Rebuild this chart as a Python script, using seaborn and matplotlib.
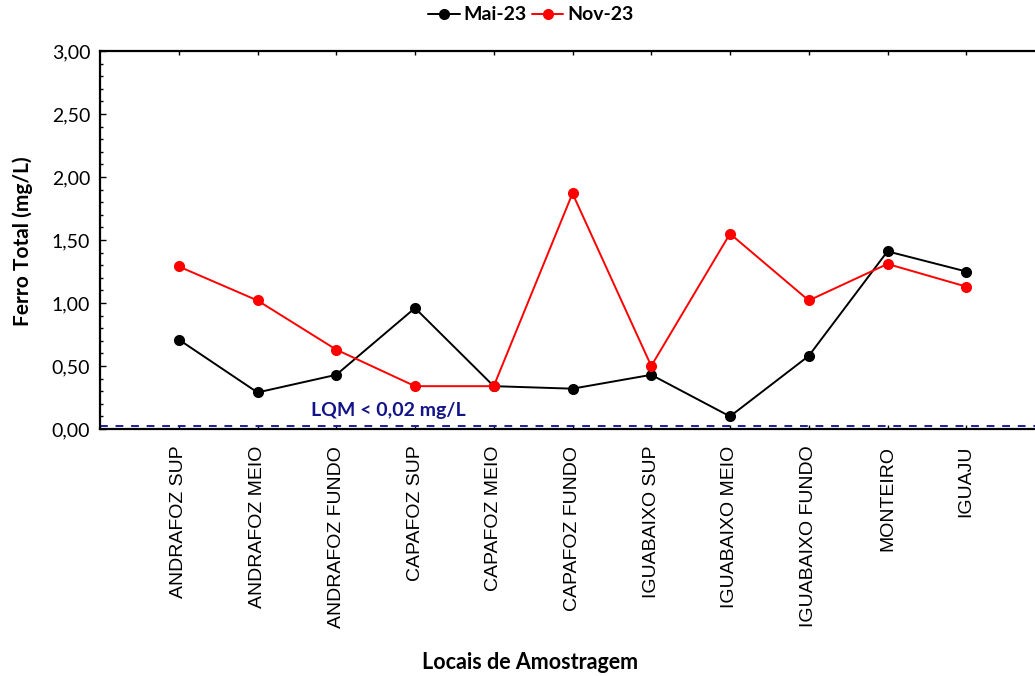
import matplotlib
matplotlib.use("Agg")
import matplotlib.pyplot as plt
import seaborn as sns
import pandas as pd
from matplotlib.ticker import MultipleLocator, FuncFormatter

locais = ["ANDRAFOZ SUP", "ANDRAFOZ MEIO", "ANDRAFOZ FUNDO", "CAPAFOZ SUP",
          "CAPAFOZ MEIO", "CAPAFOZ FUNDO", "IGUABAIXO SUP", "IGUABAIXO MEIO",
          "IGUABAIXO FUNDO", "MONTEIRO", "IGUAJU"]
mai23 = [0.71, 0.29, 0.43, 0.96, 0.34, 0.32, 0.43, 0.10, 0.58, 1.41, 1.25]
nov23 = [1.29, 1.02, 0.63, 0.34, 0.34, 1.87, 0.50, 1.55, 1.02, 1.31, 1.13]
series_names = ["Mai-23", "Nov-23"]
lqm = 0.02

sns.set_theme(style="white")
plt.rcParams["font.family"] = ["Lato", "DejaVu Sans"]
plt.rcParams.update({"text.color": "black", "axes.labelcolor": "black",
                     "xtick.color": "black", "ytick.color": "black"})

df = pd.DataFrame({
    "Local": locais * 2,
    "Ferro": mai23 + nov23,
    "Campanha": [series_names[0]] * len(locais) + [series_names[1]] * len(locais),
})

fig = plt.figure(figsize=(10.35, 6.76), dpi=100)
ax = fig.add_axes([100 / 1035, 1 - 429 / 676, 945 / 1035, 378 / 676])

sns.lineplot(data=df, x="Local", y="Ferro", hue="Campanha",
             palette={"Mai-23": "black", "Nov-23": "#ff0000"},
             marker="o", markersize=8, markeredgewidth=0, linewidth=1.4,
             sort=False, ax=ax, legend=True)

ax.axhline(lqm, color="#1f1f99", linestyle=(0, (4, 4)), linewidth=1.4, zorder=1)
ax.text(2.66, 0.15, "LQM < 0,02 mg/L", color="#14148a", fontsize=14,
        fontweight="bold", ha="center", va="center")

ax.set_xlim(-1, 11)
ax.set_ylim(0, 3)
ax.yaxis.set_major_locator(MultipleLocator(0.5))
ax.yaxis.set_minor_locator(MultipleLocator(0.1))
ax.yaxis.set_major_formatter(FuncFormatter(lambda v, p: f"{v:.2f}".replace(".", ",")))
ax.set_xticks(range(len(locais)))
ax.set_xticklabels(locais, rotation=90, fontsize=14, family=["Liberation Sans", "DejaVu Sans"])
ax.tick_params(axis="y", which="major", direction="in", length=4, width=1, labelsize=14, pad=7,
               left=True, colors="black")
ax.tick_params(axis="y", which="minor", direction="in", length=2, width=1, left=True, colors="black")
ax.tick_params(axis="x", which="major", direction="in", length=3, width=1, pad=12,
               bottom=True, top=True, colors="black")

for s in ax.spines.values():
    s.set_color("black")
    s.set_linewidth(1.6)

ax.set_xlabel("Locais de Amostragem", fontsize=15.5, fontweight="bold", color="black")
ax.set_ylabel("Ferro Total (mg/L)", fontsize=15, fontweight="bold", color="black")
ax.xaxis.set_label_coords((530 - 100) / 945, -(652 - 429) / 378)
ax.yaxis.set_label_coords((33 - 100) / 945, (429 - 241) / 378)

handles, labels = ax.get_legend_handles_labels()
leg = ax.legend(handles, labels, loc="center", bbox_to_anchor=((531 - 100) / 945, 1 + (51 - 15) / 378),
                ncol=2, frameon=False, handlelength=1.6, handletextpad=0.2, columnspacing=0.3,
                prop={"weight": "bold", "size": 14})
for t in leg.get_texts():
    t.set_color("black")

fig.savefig("out.png", dpi=100)
